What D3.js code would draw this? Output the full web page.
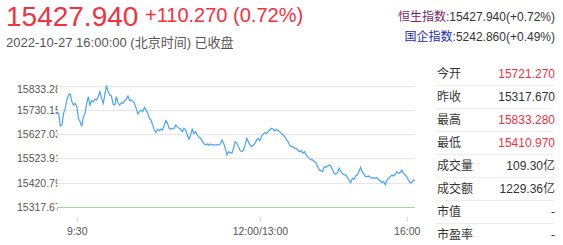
<!DOCTYPE html>
<html>
<head>
<meta charset="utf-8">
<script src="https://cdn.jsdelivr.net/npm/d3@7"></script>
<style>
   body { margin: 0; background: #fff; }
   svg text { font-family: "Liberation Sans", Arial, "Noto Sans CJK SC", sans-serif; }
</style>
</head>
<body>
<div id="chart"></div>
<script>
// Quote header
var lastPrice = "15427.940";
var priceChange = "+110.270 (0.72%)";
var quoteTime = "2022-10-27 16:00:00 (北京时间) 已收盘";
var indexNames = ["恒生指数", "国企指数"];
var indexQuotes = [":15427.940(+0.72%)", ":5242.860(+0.49%)"];

// Right side table
var statLabels = ["今开", "昨收", "最高", "最低", "成交量", "成交额", "市值", "市盈率"];
var statValues = ["15721.270", "15317.670", "15833.280", "15410.970", "109.30亿", "1229.36亿", "-", "-"];
var statIsPrice = [true, true, true, true, false, false, false, false];

var prevClose = 15317.67;
var dayHigh = 15833.28;

// Y axis ticks
var yTicks = [15317.670, 15420.792, 15523.914, 15627.036, 15730.158, 15833.280];

// X axis ticks (position in the minute series)
var xTickIndex = [12, 123, 212];
var xTickLabels = ["9:30", "12:00/13:00", "16:00"];

// Intraday index values
var priceValues = [
   15721.3, 15715.6, 15661.6, 15665.9, 15715.6, 15736.9, 15772.4, 15793.7, 15798.0, 15765.3,
   15751.1, 15758.2, 15744.0, 15694.3, 15680.1, 15658.8, 15701.4, 15715.6, 15758.2, 15786.6,
   15751.1, 15769.6, 15765.3, 15775.2, 15772.4, 15786.6, 15807.9, 15779.5, 15758.2, 15793.7,
   15833.3, 15807.9, 15793.7, 15789.4, 15753.9, 15751.1, 15786.6, 15758.2, 15751.1, 15761.0,
   15758.2, 15769.6, 15775.2, 15789.4, 15769.6, 15772.4, 15765.3, 15758.2, 15736.9, 15712.8,
   15722.7, 15729.8, 15722.7, 15741.2, 15729.8, 15715.6, 15694.3, 15687.2,
   15665.9, 15644.6, 15634.7, 15647.4, 15641.8, 15648.9, 15644.6, 15665.9, 15684.4, 15673.0,
   15651.7, 15647.4, 15651.7, 15651.7, 15665.9, 15658.8, 15651.7, 15647.4, 15637.5, 15651.7,
   15644.6, 15623.3, 15604.8, 15623.3, 15647.4, 15630.4, 15637.5, 15623.3, 15613.4, 15609.1,
   15599.2, 15587.8, 15580.7, 15585.0, 15579.3, 15585.0, 15580.7, 15580.7, 15580.7, 15582.1,
   15580.7, 15585.0, 15602.0, 15587.8, 15566.5, 15538.1, 15552.3, 15548.0, 15545.2, 15566.5,
   15594.9, 15587.8, 15573.6, 15556.6, 15552.3, 15556.6, 15580.7, 15609.1, 15594.9, 15580.7,
   15573.6, 15580.7, 15587.8, 15602.0, 15609.1, 15599.2, 15619.0, 15627.6, 15633.2, 15630.4,
   15637.5, 15644.6, 15651.7, 15647.4, 15640.3, 15647.4, 15641.8, 15637.5, 15630.4, 15623.3,
   15616.2, 15604.8, 15594.9, 15580.7, 15573.6, 15573.6, 15566.5, 15566.5, 15559.4, 15552.3,
   15556.6, 15545.2, 15552.3, 15538.1, 15531.0, 15523.9, 15516.8, 15516.8, 15509.7, 15505.4,
   15488.4, 15474.2, 15471.4, 15467.1,
   15488.4, 15485.6, 15491.2, 15495.5, 15491.2, 15474.2, 15460.0, 15455.7, 15462.8, 15481.3,
   15467.1, 15460.0, 15452.9, 15452.9, 15443.0, 15431.6, 15420.2, 15438.7, 15434.4, 15448.6,
   15452.9, 15467.1, 15485.6, 15467.1, 15455.7, 15445.8, 15445.8, 15448.6, 15443.0, 15438.7,
   15441.5, 15438.7, 15441.5, 15431.6, 15428.8, 15420.2, 15424.5, 15411.0, 15431.6, 15438.7,
   15445.8, 15452.9, 15448.6, 15455.7, 15467.1, 15460.0, 15462.8, 15474.2, 15460.0, 15452.9,
   15445.8, 15431.6, 15420.2, 15420.2, 15431.6, 15427.9
];

var red = "#f2323f";
var dark = "#333";

var svg = d3.select("#chart")
   .append("svg")
   .attr("width", 563)
   .attr("height", 245);

// Header texts
svg.append("text")
   .attr("x", 6)
   .attr("y", 26)
   .attr("font-size", 28)
   .attr("fill", red)
   .text(lastPrice);

svg.append("text")
   .attr("x", 145)
   .attr("y", 22)
   .attr("font-size", 20)
   .attr("fill", red)
   .text(priceChange);

svg.append("text")
   .attr("x", 6)
   .attr("y", 47)
   .attr("font-size", 13)
   .attr("fill", "#555")
   .text(quoteTime);

var indexColors = ["#7a1f6e", "#1c2bb8"];
indexNames.forEach(function (name, i) {
   var t = svg.append("text")
      .attr("x", 555)
      .attr("y", 21 + i * 20)
      .attr("font-size", 12)
      .attr("text-anchor", "end");
   t.append("tspan").attr("fill", indexColors[i]).text(name);
   t.append("tspan").attr("fill", dark).text(indexQuotes[i]);
});

// Chart area
var plot = { left: 57, right: 415, top: 85.7, bottom: 206.7 };

var xScale = d3.scaleLinear()
   .domain([0, priceValues.length - 1])
   .range([plot.left, plot.right]);

var yScale = d3.scaleLinear()
   .domain([prevClose, dayHigh])
   .range([plot.bottom, plot.top]);

// Clip for the y labels (they are cut by the plot edge)
svg.append("clipPath")
   .attr("id", "labelClip")
   .append("rect")
   .attr("x", 0)
   .attr("y", 60)
   .attr("width", plot.left + 0.5)
   .attr("height", 170);

// Grid lines
svg.append("g")
   .selectAll("line")
   .data(yTicks.slice(1))
   .enter().append("line")
   .attr("x1", plot.left)
   .attr("x2", plot.right)
   .attr("y1", function (d) { return Math.round(yScale(d)) + 0.5; })
   .attr("y2", function (d) { return Math.round(yScale(d)) + 0.5; })
   .attr("stroke", "#e6e6e6");

// Y labels
svg.append("g")
   .attr("clip-path", "url(#labelClip)")
   .selectAll("text")
   .data(yTicks)
   .enter().append("text")
   .attr("x", 17)
   .attr("y", function (d, i) { return yScale(d) + (i === yTicks.length - 1 ? 7 : 4); })
   .attr("font-size", 10.5)
   .attr("fill", "#555")
   .text(function (d) { return d3.format(".3f")(d); });

// Previous close line
svg.append("line")
   .attr("x1", plot.left)
   .attr("x2", plot.right)
   .attr("y1", Math.round(yScale(prevClose)) + 0.5)
   .attr("y2", Math.round(yScale(prevClose)) + 0.5)
   .attr("stroke", "#9fd99f")
   .attr("stroke-width", 1.2);

// X axis
var xAxis = d3.axisBottom(xScale)
   .tickValues(xTickIndex)
   .tickSize(5)
   .tickPadding(6)
   .tickFormat(function (d, i) { return xTickLabels[i]; });

var xg = svg.append("g")
   .attr("transform", "translate(0,217)")
   .call(xAxis);
xg.select(".domain").remove();
xg.selectAll("line").attr("stroke", "#d0d0d0");
xg.selectAll("text")
   .attr("fill", "#555")
   .attr("font-size", 10.5)
   .style("font-family", "'Liberation Sans', Arial, sans-serif");

// Price line
var line = d3.line()
   .x(function (d, i) { return xScale(i); })
   .y(function (d) { return yScale(d); });

svg.append("path")
   .datum(priceValues)
   .attr("fill", "none")
   .attr("stroke", "#4aa3f8")
   .attr("stroke-width", 1.2)
   .attr("d", line);

// Stats table
var rows = svg.append("g")
   .selectAll("g")
   .data(statLabels)
   .enter().append("g")
   .attr("transform", function (d, i) { return "translate(0," + (73.5 + i * 23) + ")"; });

rows.append("text")
   .attr("x", 437)
   .attr("y", 4.5)
   .attr("font-size", 12)
   .attr("fill", dark)
   .text(function (d) { return d; });

rows.append("text")
   .attr("x", 555)
   .attr("y", 4.5)
   .attr("font-size", 12)
   .attr("text-anchor", "end")
   .attr("fill", function (d, i) {
      return statIsPrice[i] && parseFloat(statValues[i]) > prevClose ? red : dark;
   })
   .text(function (d, i) { return statValues[i]; });

rows.filter(function (d, i) { return i < statLabels.length - 1; })
   .append("line")
   .attr("x1", 436)
   .attr("x2", 555)
   .attr("y1", 12)
   .attr("y2", 12)
   .attr("stroke", "#eeeeee");
</script>
</body>
</html>
